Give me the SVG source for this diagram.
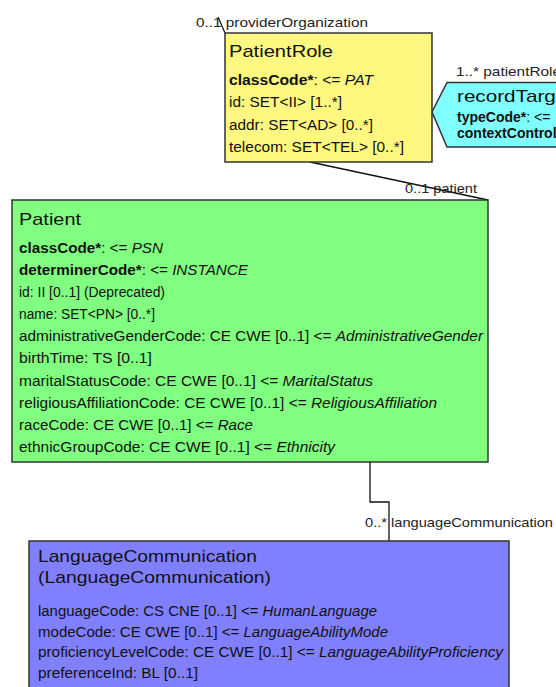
<svg xmlns="http://www.w3.org/2000/svg" width="556" height="687" viewBox="0 0 556 687">
<style>
  text { font-family: "Liberation Sans", Arial, sans-serif; fill: #111; }
  .title { font-size: 17px; }
  .attr { font-size: 14px; }
  .lbl { font-size: 13px; fill: #222; }
  .b { font-weight: bold; }
  .i { font-style: italic; }
  .box { stroke: #333; stroke-width: 1.5; }
  .conn { fill: none; stroke: #111; stroke-width: 1.3; }
</style>
<rect width="556" height="687" fill="#ffffff"/>

<g id="connectors">
  <line class="conn" x1="218" y1="17" x2="225" y2="33"/>
  <line class="conn" x1="310" y1="162" x2="488" y2="200"/>
  <polyline class="conn" points="370,462 370,502 389,502 389,541"/>
</g>

<g id="PatientRole">
  <rect class="box" x="225" y="33" width="207" height="129" fill="#FFF880"/>
  <text class="title" x="229" y="57" textLength="104" lengthAdjust="spacingAndGlyphs">PatientRole</text>
  <text class="attr" x="229" y="85" textLength="144" lengthAdjust="spacingAndGlyphs"><tspan class="b">classCode*</tspan>: &lt;= <tspan class="i">PAT</tspan></text>
  <text class="attr" x="229" y="107" textLength="113" lengthAdjust="spacingAndGlyphs">id: SET&lt;II&gt; [1..*]</text>
  <text class="attr" x="229" y="130" textLength="144" lengthAdjust="spacingAndGlyphs">addr: SET&lt;AD&gt; [0..*]</text>
  <text class="attr" x="229" y="152" textLength="175" lengthAdjust="spacingAndGlyphs">telecom: SET&lt;TEL&gt; [0..*]</text>
</g>

<g id="recordTarget">
  <polygon class="box" points="432,112 447,82.5 562,82.5 562,147 447,147" fill="#80FFFF"/>
  <text class="title" x="457" y="102" textLength="116" lengthAdjust="spacingAndGlyphs">recordTarget</text>
  <text class="attr" x="457" y="122"><tspan class="b">typeCode*</tspan>: &lt;=</text>
  <text class="attr b" x="457" y="138">contextControl</text>
</g>

<g id="Patient">
  <rect class="box" x="12" y="200" width="476" height="262" fill="#80FF80"/>
  <text class="title" x="19" y="225" textLength="62" lengthAdjust="spacingAndGlyphs">Patient</text>
  <text class="attr" x="19" y="253" textLength="144" lengthAdjust="spacingAndGlyphs"><tspan class="b">classCode*</tspan>: &lt;= <tspan class="i">PSN</tspan></text>
  <text class="attr" x="19" y="275" textLength="229" lengthAdjust="spacingAndGlyphs"><tspan class="b">determinerCode*</tspan>: &lt;= <tspan class="i">INSTANCE</tspan></text>
  <text class="attr" x="19" y="297" textLength="146" lengthAdjust="spacingAndGlyphs">id: II [0..1] (Deprecated)</text>
  <text class="attr" x="19" y="319" textLength="136" lengthAdjust="spacingAndGlyphs">name: SET&lt;PN&gt; [0..*]</text>
  <text class="attr" x="19" y="341" textLength="464" lengthAdjust="spacingAndGlyphs">administrativeGenderCode: CE CWE [0..1] &lt;= <tspan class="i">AdministrativeGender</tspan></text>
  <text class="attr" x="19" y="363" textLength="133" lengthAdjust="spacingAndGlyphs">birthTime: TS [0..1]</text>
  <text class="attr" x="19" y="386" textLength="354" lengthAdjust="spacingAndGlyphs">maritalStatusCode: CE CWE [0..1] &lt;= <tspan class="i">MaritalStatus</tspan></text>
  <text class="attr" x="19" y="408" textLength="418" lengthAdjust="spacingAndGlyphs">religiousAffiliationCode: CE CWE [0..1] &lt;= <tspan class="i">ReligiousAffiliation</tspan></text>
  <text class="attr" x="19" y="430" textLength="234" lengthAdjust="spacingAndGlyphs">raceCode: CE CWE [0..1] &lt;= <tspan class="i">Race</tspan></text>
  <text class="attr" x="19" y="452" textLength="316" lengthAdjust="spacingAndGlyphs">ethnicGroupCode: CE CWE [0..1] &lt;= <tspan class="i">Ethnicity</tspan></text>
</g>

<g id="LanguageCommunication">
  <rect class="box" x="29" y="541" width="480" height="160" fill="#8080FF"/>
  <text class="title" x="38" y="562" textLength="219" lengthAdjust="spacingAndGlyphs">LanguageCommunication</text>
  <text class="title" x="38" y="583" textLength="233" lengthAdjust="spacingAndGlyphs">(LanguageCommunication)</text>
  <text class="attr" x="38" y="616" textLength="339" lengthAdjust="spacingAndGlyphs">languageCode: CS CNE [0..1] &lt;= <tspan class="i">HumanLanguage</tspan></text>
  <text class="attr" x="38" y="637" textLength="350" lengthAdjust="spacingAndGlyphs">modeCode: CE CWE [0..1] &lt;= <tspan class="i">LanguageAbilityMode</tspan></text>
  <text class="attr" x="38" y="657" textLength="465" lengthAdjust="spacingAndGlyphs">proficiencyLevelCode: CE CWE [0..1] &lt;= <tspan class="i">LanguageAbilityProficiency</tspan></text>
  <text class="attr" x="38" y="678" textLength="160" lengthAdjust="spacingAndGlyphs">preferenceInd: BL [0..1]</text>
</g>

<g id="labels">
  <text class="lbl" x="196" y="27" textLength="172" lengthAdjust="spacingAndGlyphs">0..1 providerOrganization</text>
  <text class="lbl" x="456" y="76" textLength="105" lengthAdjust="spacingAndGlyphs">1..* patientRole</text>
  <text class="lbl" x="405" y="193" textLength="72" lengthAdjust="spacingAndGlyphs">0..1 patient</text>
  <text class="lbl" x="365" y="527" textLength="188" lengthAdjust="spacingAndGlyphs">0..* languageCommunication</text>
</g>
</svg>
